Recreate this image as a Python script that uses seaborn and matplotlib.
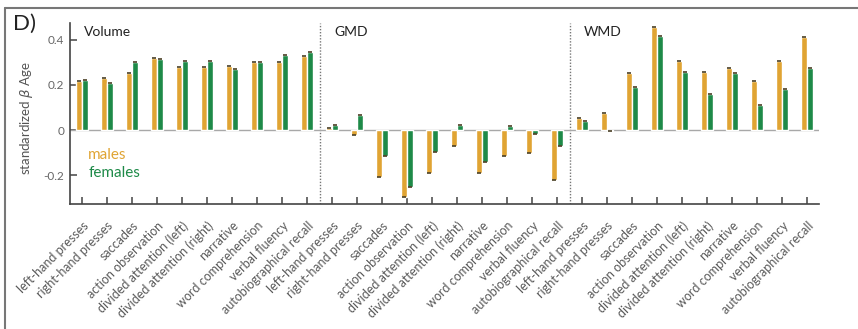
import matplotlib
matplotlib.use("Agg")
import matplotlib.pyplot as plt
from matplotlib.lines import Line2D
import numpy as np
import pandas as pd
import seaborn as sns

# Tasks (same set for each brain measure)
tasks = [
    "left-hand presses", "right-hand presses", "saccades", "action observation",
    "divided attention (left)", "divided attention (right)", "narrative",
    "word comprehension", "verbal fluency", "autobiographical recall",
]
measures = ["Volume", "GMD", "WMD"]

# Standardized beta of age, per measure and sex
volume_males = [0.215, 0.228, 0.254, 0.317, 0.280, 0.279, 0.283, 0.301, 0.299, 0.328]
volume_females = [0.219, 0.206, 0.301, 0.315, 0.305, 0.307, 0.270, 0.302, 0.333, 0.344]
gmd_males = [0.009, -0.024, -0.208, -0.295, -0.189, -0.071, -0.189, -0.114, -0.103, -0.220]
gmd_females = [0.022, 0.068, -0.115, -0.254, -0.096, 0.024, -0.142, 0.018, -0.016, -0.071]
wmd_males = [0.052, 0.074, 0.252, 0.456, 0.307, 0.257, 0.273, 0.215, 0.304, 0.413]
wmd_females = [0.041, -0.004, 0.189, 0.414, 0.255, 0.159, 0.252, 0.112, 0.183, 0.276]

sexes = ["males", "females"]
colors = {"males": "#E0A433", "females": "#1E8A48"}

values = {
    ("Volume", "males"): volume_males, ("Volume", "females"): volume_females,
    ("GMD", "males"): gmd_males, ("GMD", "females"): gmd_females,
    ("WMD", "males"): wmd_males, ("WMD", "females"): wmd_females,
}

rows = []
for m in measures:
    for s in sexes:
        for t, v in zip(tasks, values[(m, s)]):
            rows.append({"key": f"{m}|{t}", "task": t, "measure": m, "sex": s, "beta": v})
df = pd.DataFrame(rows)
order = [f"{m}|{t}" for m in measures for t in tasks]

sns.set_theme(style="white")
plt.rcParams["font.family"] = ["Lato", "DejaVu Sans"]

fig = plt.figure(figsize=(8.58, 3.29), dpi=100)
ax = fig.add_axes([70 / 858, 1 - 204 / 329, 749 / 858, 181 / 329])

sns.barplot(data=df, x="key", y="beta", hue="sex", order=order, hue_order=sexes,
            palette=colors, width=0.48, saturation=1, legend=False, ax=ax,
            errorbar=None, zorder=3)

# dark end caps on each bar
for p in ax.patches:
    y_end = p.get_y() + p.get_height()
    ax.plot([p.get_x() + 0.03, p.get_x() + p.get_width() - 0.03], [y_end, y_end],
            color="#4a3f25", lw=1.2, solid_capstyle="butt", zorder=4)

ax.set_xlim(-0.48, 29.48)
ax.set_ylim(-0.327, 0.473)

ax.axhline(0, color="#a8a8a8", lw=1.0, zorder=2)
for xs in (9.5, 19.5):
    ax.axvline(xs, color="#777777", lw=1.0, ls=(0, (1, 1.2)), zorder=1)

for i, m in enumerate(measures):
    ax.text(i * 10 + 0.08, 0.434, m, fontsize=10, color="#222222", va="center", ha="left")

ax.text(0.25, -0.111, "males", color=colors["males"], fontsize=11, va="center", ha="left")
ax.text(0.25, -0.19, "females", color=colors["females"], fontsize=11, va="center", ha="left")

ax.set_yticks([-0.2, 0, 0.2, 0.4])
ax.set_yticklabels(["-0.2", "0", "0.2", "0.4"])
ax.set_xticks(range(len(order)))
ax.set_xticklabels([k.split("|")[1] for k in order], rotation=45, ha="right",
                   rotation_mode="anchor", fontsize=9, color="#5a5a5a")
ax.tick_params(axis="y", direction="in", length=5, width=1.1, color="#444444",
               labelsize=8.5, labelcolor="#666666", pad=4, left=True)
ax.tick_params(axis="x", direction="in", length=5, width=1.1, color="#444444",
               pad=11, bottom=True)

ax.set_xlabel("")
ax.set_ylabel(r"standardized $\beta$ Age", fontsize=9.5, color="#555555")
ax.yaxis.set_label_coords(-0.047, 0.475)

sns.despine(ax=ax)
for side in ("left", "bottom"):
    ax.spines[side].set_color("#444444")
    ax.spines[side].set_linewidth(1.2)

# panel label and frame
fig.text(13 / 858, 1 - 14 / 329, "D)", fontsize=16, va="top", ha="left", color="#222222")
fig.add_artist(Line2D([5 / 858, 5 / 858], [0, 1 - 8 / 329], color="#777777", lw=1.5,
                      transform=fig.transFigure))
fig.add_artist(Line2D([5 / 858, 1], [1 - 8 / 329, 1 - 8 / 329], color="#777777", lw=1.5,
                      transform=fig.transFigure))

fig.savefig("out.png", dpi=100)
